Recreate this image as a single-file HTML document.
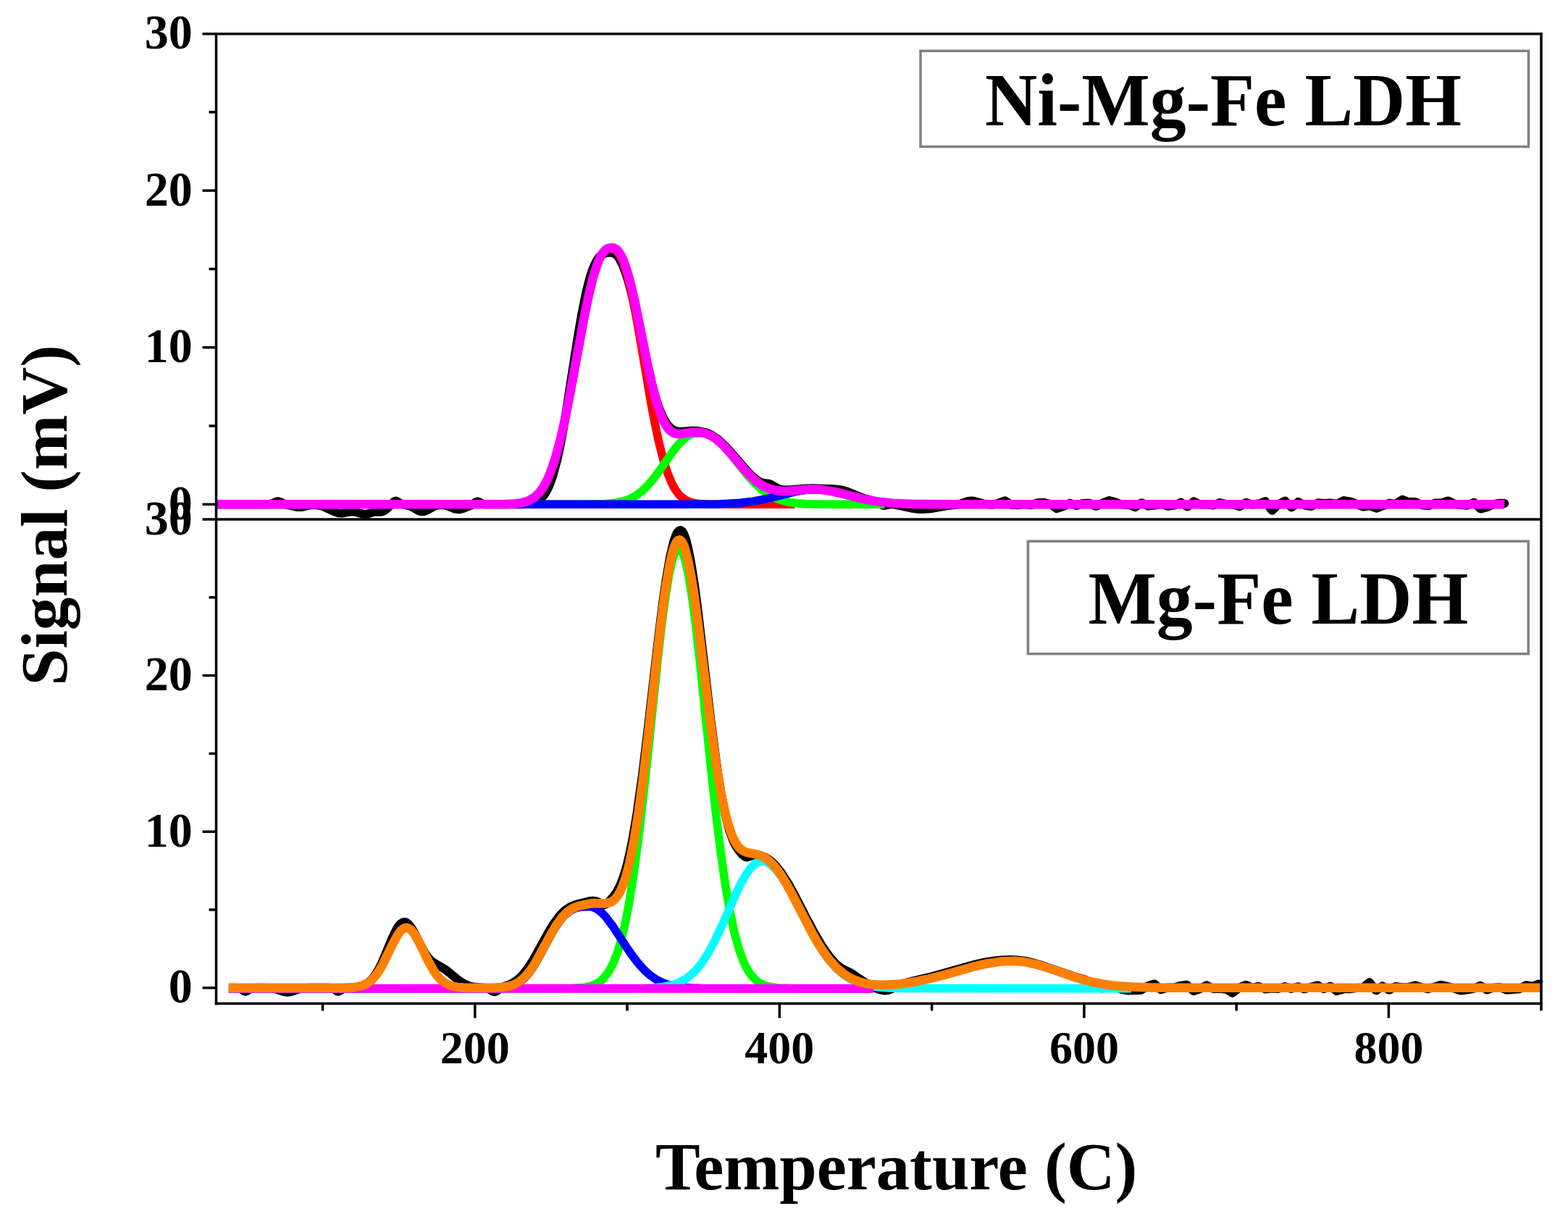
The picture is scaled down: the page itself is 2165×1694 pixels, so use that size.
<!DOCTYPE html>
<html><head><meta charset="utf-8"><title>TPD profiles: Ni-Mg-Fe LDH and Mg-Fe LDH</title>
<style>
html,body{margin:0;padding:0;background:#fff;}
body{width:2165px;height:1694px;overflow:hidden;}
svg{display:block;}
text{font-family:"Liberation Serif","Times New Roman",serif;font-weight:bold;fill:#000;}
</style></head><body>
<svg width="2165" height="1694" viewBox="0 0 2165 1694">
<rect width="2165" height="1694" fill="#fff"/>
<path fill="none" stroke="#000" stroke-width="12" stroke-linejoin="round" stroke-linecap="butt" d="M298.3 696.3 369.8 696.2 375 695.5 381.3 692.8 384.5 692.3 386.6 692.9 394 696.2 409.7 700 416 700.1 429.7 697.2 437.1 697.2 442.3 698 446.5 699.2 462.3 706.6 467.6 708.2 472.8 708.4 483.3 706.5 487.5 706.3 491.7 707 500.2 709.5 504.4 709.9 507.5 709.5 517 706.6 525.4 706.8 528.5 706.2 531.7 704.3 534.8 701.7 543.3 693.2 545.4 691.8 546.4 691.6 548.5 692.4 553.8 695.7 565.3 698.4 569.5 700.3 578 705.1 581.1 706.1 583.2 706.3 585.3 706 588.5 704.9 600 698.7 606.3 697.2 610.5 697.1 614.8 697.7 619 698.9 628.4 702.6 633.7 703.3 638.9 702.2 649.5 697.9 652.6 696.2 656.8 693.3 658.9 692.5 661 692.9 666.3 695.6 669.4 696.2 716.7 696.2 726.2 695.9 732.5 695.1 737.8 693.8 743 691.3 747.2 688 750.4 684.5 753.5 680 756.7 674.1 759.8 666.8 763 657.9 769.3 634.7 774.6 609.9 779.8 580.6 796.6 472.7 803 435.2 809.3 403.8 814.5 383.2 817.7 373.5 820.8 365.7 824 359.7 827.1 355.3 830.3 352.2 833.4 350.4 837.7 349.1 842.9 348.6 846.1 348.9 849.2 350.4 852.4 353.2 854.5 355.9 859.7 365.8 865 379.9 869.2 394.2 874.5 415 893.4 502 901.8 536.7 907 554.7 911.3 566.6 915.5 576.2 920.7 585.2 923.9 589 927 591.9 930.2 593.9 934.4 595.4 940.7 595.9 955.4 594.7 963.8 595.1 974.3 597.2 979.6 599.2 983.8 601.4 991.2 606.5 999.6 614.1 1008 623.1 1030.1 648.7 1037.4 656.3 1043.7 661.8 1047.9 664.6 1051.1 666.1 1054.2 666.9 1060.5 667.6 1063.7 668.5 1073.2 674 1077.4 675.6 1081.6 676.3 1087.9 676.4 1112.1 674.6 1123.6 674.3 1151 675.3 1158.3 675.9 1163.6 676.9 1168.8 678.4 1192 687.8 1208.8 692.2 1212 693.6 1217.2 696.8 1219.3 697.7 1222.5 697.8 1228.8 696.2 1233 696.2 1260.3 701.9 1266.6 702.8 1272.9 703.1 1284.5 702.3 1305.5 698.6 1321.3 696.5 1326.6 695.3 1337.1 691.9 1341.3 691.4 1345.5 691.9 1358.1 695.5 1369.7 696.7 1377 695.2 1387.5 691.3 1395.9 696.8 1397 697 1405.4 697.2 1413.8 696.1 1423.3 697.2 1432.7 694.2 1441.2 693.9 1450.6 696 1459 702.2 1468.5 698.8 1476.9 694.8 1478 694.9 1486.4 698.1 1494.8 695 1504.2 694.8 1512.7 698.8 1513.7 698.8 1522.1 694.7 1531.6 691 1540 693.3 1549.4 696.6 1558.9 697 1567.3 700.2 1575.7 694.4 1576.8 694.3 1585.2 698.6 1594.7 697.6 1603.1 695.9 1612.5 698.9 1620.9 697.9 1630.4 693.6 1638.8 699.4 1639.9 699.3 1648.3 692.4 1657.7 696.5 1666.2 696.3 1675.6 697.5 1684 694.1 1693.5 696.2 1701.9 695.9 1711.4 699.4 1719.8 694.1 1720.8 693.9 1729.2 696.5 1738.7 695.3 1747.1 692.2 1755.5 703.8 1756.6 704.6 1765 696.4 1774.4 691.7 1782.9 700.4 1783.9 700.3 1792.3 692.9 1801.8 697.6 1810.2 699 1819.7 694.3 1828.1 694.9 1837.5 694.6 1845.9 695.8 1855.4 691.1 1864.9 692.6 1881.7 699.4 1882.7 699.6 1891.2 698.3 1900.6 701.7 1918.5 694.7 1926.9 695.9 1936.4 689.8 1944.8 693 1954.2 693 1963.7 697.2 1972.1 698.4 1981.6 694.5 1990 694.4 1999.4 691.4 2008.9 696 2017.3 697.1 2025.7 697.7 2035.2 693.8 2043.6 702 2044.7 702.6 2053.1 700.2 2062.5 696 2070.9 694.7 2077.3 695"/>
<circle cx="2077.3" cy="695" r="6.0" fill="#000"/>
<path fill="none" stroke="#ff0000" stroke-width="11.5" stroke-linejoin="round" stroke-linecap="butt" d="M298.3 696.3 695.7 696.2 709.4 695.6 719.9 694.3 728.3 691.9 735.7 688.1 739.9 684.9 744.1 680.7 748.3 675.3 752.5 668.5 756.7 660.2 759.8 652.7 766.2 634.6 773.5 607.8 780.9 575.1 788.2 537.6 807.2 435 812.4 409.7 817.7 387.8 824 367 827.1 359.1 830.3 352.8 833.4 348.2 836.6 345.2 839.8 343.6 842.9 343.2 846.1 343.6 849.2 345 852.4 347.8 855.5 352.3 858.7 358.5 860.8 363.7 866 380.3 871.3 401.8 876.6 427.5 882.9 462.4 898.6 554.9 903.9 583 909.1 608 915.5 633.3 921.8 653.3 928.1 668.3 931.2 674 934.4 678.8 937.5 682.8 940.7 685.9 947 690.4 951.2 692.4 955.4 693.8 964.9 695.4 974.3 696 987 696.3 1097.3 696.3"/>
<path fill="none" stroke="#00ff00" stroke-width="11.5" stroke-linejoin="round" stroke-linecap="butt" d="M298.3 696.3 806.1 696.3 833.4 695.8 850.3 694.2 860.8 692 869.2 689 877.6 684.5 886 678.3 893.4 671.3 901.8 661.5 909.1 651.7 929.1 623.2 934.4 616.4 939.6 610.5 945.9 604.7 952.3 600.7 958.6 598.4 964.9 597.7 972.2 598.4 978.5 600.4 984.8 603.7 991.2 608.3 997.5 614.2 1003.8 621 1031.1 655 1043.7 668.8 1051.1 675.4 1058.4 680.9 1065.8 685.3 1074.2 689.1 1082.6 691.8 1091 693.6 1100.5 694.8 1112.1 695.7 1139.4 696.2 1221.4 696.3"/>
<path fill="none" stroke="#0000ff" stroke-width="11.5" stroke-linejoin="round" stroke-linecap="butt" d="M298.3 696.3 936.5 696.3 993.3 695.9 1018.5 694.6 1039.5 692.2 1058.4 688.6 1100.5 678.2 1113.1 676.3 1124.7 675.7 1136.2 676.3 1148.9 678.2 1190.9 688.6 1210.9 692.4 1233 694.8 1259.3 695.9 1317.1 696.3 2066.7 696.3"/>
<path fill="none" stroke="#ff00ff" stroke-width="12.5" stroke-linejoin="round" stroke-linecap="butt" d="M300.4 696.3 696.8 696.1 710.4 695.5 720.9 694.1 729.4 691.5 735.7 688.1 739.9 684.9 744.1 680.7 748.3 675.3 752.5 668.5 756.7 660.2 759.8 652.7 766.2 634.6 773.5 607.8 780.9 575.1 788.2 537.6 807.2 434.9 813.5 405 818.7 383.8 825 363.9 828.2 356.4 831.3 350.6 834.5 346.5 837.7 343.8 840.8 342.4 845 342 848.2 342.6 850.3 343.7 853.4 346.5 855.5 349.3 858.7 354.8 860.8 359.4 866 374.3 870.2 389.4 875.5 411.6 894.4 504.7 901.8 537.2 907 556.6 911.3 569.4 915.5 579.7 919.7 587.4 922.8 591.8 926 595 929.1 597.2 933.3 598.8 939.6 599.2 955.4 596.8 963.8 596.7 969.1 597.3 974.3 598.5 979.6 600.5 983.8 602.7 991.2 607.9 999.6 615.7 1008 625 1028 648.6 1039.5 660.4 1045.8 665.7 1052.1 669.9 1058.4 673.2 1064.8 675.5 1073.2 677.3 1081.6 677.9 1090 677.7 1117.3 675.5 1126.8 675.5 1135.2 676.1 1152 678.9 1189.9 688.3 1208.8 692.1 1231.9 694.7 1260.3 696 1318.1 696.3 2077.3 696.3"/>
<path fill="none" stroke="#000" stroke-width="12" stroke-linejoin="round" stroke-linecap="butt" d="M315.9 1363.8 329.6 1364.1 332.8 1365.3 337 1368.2 339.1 1368.8 341.2 1368.1 345.4 1365.2 348.5 1364.1 358 1363.8 372.7 1364.1 380.1 1365.2 391.6 1369 396.9 1369.8 401.1 1369.3 412.7 1365.6 420 1364.2 429.5 1363.8 454.7 1363.8 458.9 1364.5 461 1365.4 465.2 1368.3 467.3 1368.8 469.5 1367.9 473.7 1365 475.8 1364.2 492.6 1362.7 501 1360.6 506.3 1358 510.5 1354.9 514.7 1350.6 518.9 1344.9 523.1 1337.8 527.3 1329.4 542 1294.1 547.3 1283.3 550.4 1278.3 553.6 1274.9 556.7 1273.2 558.8 1273 560.9 1273.6 563 1274.9 567.2 1279.7 571.4 1286.5 582 1307.3 586.2 1314.8 591.4 1322.3 594.6 1325.7 597.7 1328.4 615.6 1339 633.5 1353.6 641.9 1358.9 647.1 1361 653.4 1362.5 672.4 1364.3 675.5 1365.6 680.8 1368.9 682.9 1369.3 683.9 1369.1 686 1368.1 690.2 1364.7 693.4 1362.8 703.9 1359.1 710.2 1355.9 716.5 1351.1 722.8 1344.6 729.1 1336.4 735.5 1326.6 756.5 1288.6 763.8 1276.4 772.3 1264.9 776.5 1260.3 780.7 1256.5 787 1252.3 793.3 1249.4 814.3 1244 818.5 1243.6 822.7 1244.1 825.9 1245.3 831.1 1248.2 834.3 1249.1 837.4 1248 840.6 1245.3 846.9 1237.7 851.1 1231.9 855.3 1224.3 858.5 1217 862.7 1204.7 865.8 1193.5 870 1175.6 873.2 1159.9 879.5 1122.7 886.9 1070.3 894.2 1010.2 910 873 915.2 831.4 919.5 801.8 924.7 771 930 748.5 933.1 739.4 935.2 735.3 937.3 732.9 939.4 732.1 940.5 732.4 942.6 734.3 944.7 738.2 946.8 743.9 949.9 755.6 954.1 776.9 958.4 803.7 962.6 834.8 981.5 995.5 990.9 1066.4 996.2 1098.5 1001.5 1124.8 1006.7 1145.1 1012 1159.8 1015.1 1166.4 1019.3 1173 1024.6 1179.5 1028.8 1183 1032 1183.5 1038.3 1181.1 1041.4 1180.4 1045.6 1180.3 1049.8 1181 1055.1 1183 1060.3 1185.9 1065.6 1189.9 1069.8 1193.9 1078.2 1204.1 1087.7 1218.7 1097.1 1235.7 1116.1 1272.4 1125.5 1290 1136 1307.5 1145.5 1320.9 1152.9 1329.4 1159.2 1334.9 1163.4 1337.5 1176 1343.8 1189.7 1353.4 1199.1 1359 1209.6 1364.3 1214.9 1366.4 1220.2 1367.5 1225.4 1367.2 1230.7 1365.6 1244.3 1359.4 1252.7 1356.4 1288.5 1347.8 1345.3 1331.8 1358.9 1328.7 1371.6 1326.6 1383.1 1325.4 1394.7 1325 1404.1 1325.4 1414.7 1326.7 1425.2 1329 1436.7 1332.2 1480.9 1347.5 1489.3 1350.2 1496.7 1352 1500.9 1353.8 1519.8 1363.9 1521.9 1364.6 1531.4 1361.7 1539.8 1362.9 1549.2 1366.2 1557.7 1367.6 1575.5 1366.9 1585 1361.2 1593.4 1358.5 1594.4 1358.8 1602.9 1366.3 1612.3 1363.4 1620.7 1363.5 1630.2 1360.9 1638.6 1359.7 1648.1 1368.2 1656.5 1365.4 1665.9 1360.4 1675.4 1365 1683.8 1364.8 1693.3 1365.7 1701.7 1370.8 1711.2 1363.6 1719.6 1359.9 1720.6 1360 1729 1363.9 1737.4 1361.9 1738.5 1362 1746.9 1365.5 1756.4 1364.5 1764.8 1364.9 1774.2 1362.1 1782.7 1365 1792.1 1362.2 1800.5 1365.3 1801.6 1365.3 1818.4 1360.4 1819.4 1360.5 1827.9 1365.3 1836.3 1361.8 1837.3 1361.8 1845.7 1368.3 1855.2 1365.2 1863.6 1365.3 1873.1 1364.1 1881.5 1363.6 1882.5 1363.1 1890.9 1356.2 1899.4 1367 1900.4 1367.4 1908.8 1361.3 1917.2 1366.4 1918.3 1366.7 1926.7 1361.9 1936.2 1363.3 1944.6 1363.1 1954 1360.5 1962.4 1363.1 1971.9 1365.3 1989.8 1359.8 1999.2 1362.1 2017.1 1367.5 2025.5 1366.5 2035 1364.7 2043.4 1360.9 2044.4 1361 2052.9 1366.6 2062.3 1363.8 2070.7 1363.1 2080.2 1366.7 2098.1 1365.3 2106.5 1360.4 2107.5 1360.2 2115.9 1361.8 2124.4 1358.6 2125.4 1358.7 2127.5 1360.1"/>
<path fill="none" stroke="#00ff00" stroke-width="11.5" stroke-linejoin="round" stroke-linecap="butt" d="M315.9 1364.8 787 1364.6 803.8 1363.6 810.1 1362.6 815.4 1361.4 820.6 1359.5 824.8 1357.3 829 1354.5 832.2 1351.8 837.4 1345.8 842.7 1337.7 848 1326.9 852.2 1315.8 856.4 1302.3 860.6 1286.1 864.8 1266.9 869 1244.5 876.3 1197.3 883.7 1140.1 891.1 1074.8 908.9 904 914.2 858.7 918.4 826.8 923.7 794 927.9 774.7 931 764.6 933.1 760.2 935.2 757.6 937.3 756.8 939.4 757.9 941.5 760.9 943.6 765.8 946.8 776.3 951 796.3 956.3 829.7 960.5 862.1 965.7 907.8 982.5 1068.9 988.8 1125.8 995.2 1177.1 1001.5 1221.5 1007.8 1258.3 1014.1 1287.9 1020.4 1310.7 1026.7 1327.8 1029.8 1334.6 1034.1 1341.9 1038.3 1347.7 1042.5 1352.2 1046.7 1355.6 1051.9 1358.7 1057.2 1360.8 1063.5 1362.5 1075.1 1364 1090.8 1364.6 1202.3 1364.8"/>
<path fill="none" stroke="#0000ff" stroke-width="11.5" stroke-linejoin="round" stroke-linecap="butt" d="M315.9 1364.8 671.3 1364.8 690.2 1364.3 701.8 1362.8 709.2 1360.5 716.5 1356.7 723.9 1350.6 730.2 1343.5 735.5 1336.1 741.8 1325.8 759.6 1292.7 765.9 1281.8 773.3 1270.9 779.6 1263.6 787 1257.5 794.3 1253.9 802.7 1252 813.3 1251.6 818.5 1252.3 824.8 1255.3 830.1 1259.3 836.4 1265.9 846.9 1279.8 865.8 1308.8 874.2 1320.9 882.7 1331.6 890 1339.6 897.4 1346.2 905.8 1352.1 914.2 1356.4 923.7 1359.8 932.1 1361.7 942.6 1363.2 954.1 1364.1 968.9 1364.6 1202.3 1364.8"/>
<path fill="none" stroke="#00ffff" stroke-width="11.5" stroke-linejoin="round" stroke-linecap="butt" d="M315.9 1364.8 870 1364.7 890 1364.4 903.7 1363.7 915.2 1362.5 924.7 1360.7 931 1359 937.3 1356.5 943.6 1353.3 948.9 1349.9 954.1 1345.8 959.4 1340.8 964.7 1334.9 968.9 1329.5 977.3 1316.7 986.7 1299.3 996.2 1279.3 1017.2 1231.7 1023.5 1218.8 1028.8 1209.4 1035.1 1200.1 1040.4 1194.3 1043.5 1191.8 1046.7 1190.1 1049.8 1189.2 1051.9 1189.1 1055.1 1189.4 1058.2 1190.4 1061.4 1191.9 1065.6 1194.9 1071.9 1201.1 1079.3 1210.8 1085.6 1220.8 1091.9 1232.1 1116.1 1279.3 1125.5 1296.7 1136 1313.8 1145.5 1326.7 1155 1337.3 1164.4 1345.5 1174.9 1352.3 1186.5 1357.3 1197 1360.3 1209.6 1362.5 1224.4 1363.8 1243.3 1364.5 1561.9 1364.8"/>
<path fill="none" stroke="#ff00ff" stroke-width="12" stroke-linejoin="round" stroke-linecap="butt" d="M315.9 1364.8 1206.5 1364.8"/>
<path fill="none" stroke="#ff8000" stroke-width="12.5" stroke-linejoin="round" stroke-linecap="butt" d="M315.9 1363.8 474.7 1363.7 489.4 1362.9 494.7 1362.1 499.9 1360.8 505.2 1358.6 510.5 1355.3 514.7 1351.5 518.9 1346.7 523.1 1340.8 528.3 1331.8 543 1301.7 549.4 1290.4 552.5 1286.1 555.7 1283 558.8 1281.2 560.9 1280.8 563 1281.1 566.2 1282.6 568.3 1284.5 571.4 1288.2 577.7 1298.8 591.4 1326.9 598.8 1340.1 603 1346.2 607.2 1351.1 611.4 1354.9 615.6 1357.8 620.9 1360.3 626.1 1361.8 632.4 1362.9 639.8 1363.5 656.6 1363.8 682.9 1363.6 693.4 1363 701.8 1361.8 709.2 1359.5 716.5 1355.7 722.8 1350.6 729.1 1343.8 734.4 1336.7 740.7 1326.6 760.7 1289.8 768 1277.4 776.5 1266 783.8 1258.7 791.2 1253.8 799.6 1250.7 818.5 1246.9 833.2 1247.3 838.5 1247 843.8 1245.3 846.9 1243.3 849 1241.4 853.2 1236.2 856.4 1230.7 859.5 1223.7 862.7 1215 865.8 1204.5 869 1192 875.3 1161 881.6 1121.8 887.9 1075 894.2 1022.1 910 881.5 915.2 839.1 919.5 809.2 924.7 778.8 928.9 761 932.1 751.9 934.2 748 936.3 745.8 938.4 745.3 939.4 745.8 941.5 747.9 943.6 751.8 945.7 757.4 949.9 773.2 954.1 794.6 958.4 820.9 962.6 851 981.5 1002.4 989.9 1061.9 995.2 1092.9 999.4 1113.9 1004.6 1135.2 1009.9 1151.2 1013 1158.6 1016.2 1164.4 1019.3 1168.8 1023.5 1173 1026.7 1175 1030.9 1176.8 1045.6 1179.6 1053 1182.5 1058.2 1185.7 1062.4 1189 1066.6 1193 1070.9 1197.7 1078.2 1207.7 1086.6 1221.4 1095 1236.9 1120.3 1286.1 1128.7 1301 1137.1 1314.2 1145.5 1325.5 1155 1336 1164.4 1344.1 1169.7 1347.7 1174.9 1350.7 1181.2 1353.5 1188.6 1356.1 1196 1357.8 1203.3 1359 1211.7 1359.6 1221.2 1359.8 1242.2 1358.5 1261.2 1355.8 1282.2 1351.5 1301.1 1346.7 1342.1 1335.2 1361 1330.7 1381 1327.6 1390.5 1326.9 1399.9 1326.7 1414.7 1328 1430.4 1331.3 1445.2 1335.7 1485.1 1349.5 1497.7 1353.2 1509.3 1356 1521.9 1358.4 1534.5 1360.2 1548.2 1361.6 1562.9 1362.6 1590.2 1363.4 1632.3 1363.8 2127.5 1363.8"/>
<line x1="279.5" y1="46.8" x2="2129.8" y2="46.8" stroke="#000" stroke-width="3.5" stroke-linecap="butt"/>
<line x1="298.5" y1="46.8" x2="298.5" y2="1387.2" stroke="#000" stroke-width="3.5" stroke-linecap="butt"/>
<line x1="2128" y1="45" x2="2128" y2="1395.5" stroke="#000" stroke-width="3.5" stroke-linecap="butt"/>
<line x1="279.5" y1="717" x2="2128" y2="717" stroke="#000" stroke-width="3.5" stroke-linecap="butt"/>
<line x1="296.8" y1="1385.5" x2="2129.8" y2="1385.5" stroke="#000" stroke-width="3.5" stroke-linecap="butt"/>
<line x1="279.5" y1="696.3" x2="298.5" y2="696.3" stroke="#000" stroke-width="3.5" stroke-linecap="butt"/>
<line x1="279.5" y1="479.7" x2="298.5" y2="479.7" stroke="#000" stroke-width="3.5" stroke-linecap="butt"/>
<line x1="279.5" y1="263.1" x2="298.5" y2="263.1" stroke="#000" stroke-width="3.5" stroke-linecap="butt"/>
<line x1="288.5" y1="588" x2="298.5" y2="588" stroke="#000" stroke-width="3.5" stroke-linecap="butt"/>
<line x1="288.5" y1="371.4" x2="298.5" y2="371.4" stroke="#000" stroke-width="3.5" stroke-linecap="butt"/>
<line x1="288.5" y1="154.8" x2="298.5" y2="154.8" stroke="#000" stroke-width="3.5" stroke-linecap="butt"/>
<line x1="279.5" y1="1363.8" x2="298.5" y2="1363.8" stroke="#000" stroke-width="3.5" stroke-linecap="butt"/>
<line x1="279.5" y1="1148.2" x2="298.5" y2="1148.2" stroke="#000" stroke-width="3.5" stroke-linecap="butt"/>
<line x1="279.5" y1="932.6" x2="298.5" y2="932.6" stroke="#000" stroke-width="3.5" stroke-linecap="butt"/>
<line x1="288.5" y1="1256" x2="298.5" y2="1256" stroke="#000" stroke-width="3.5" stroke-linecap="butt"/>
<line x1="288.5" y1="1040.4" x2="298.5" y2="1040.4" stroke="#000" stroke-width="3.5" stroke-linecap="butt"/>
<line x1="288.5" y1="824.8" x2="298.5" y2="824.8" stroke="#000" stroke-width="3.5" stroke-linecap="butt"/>
<line x1="655.8" y1="1385.5" x2="655.8" y2="1405.5" stroke="#000" stroke-width="3.5" stroke-linecap="butt"/>
<line x1="1076.3" y1="1385.5" x2="1076.3" y2="1405.5" stroke="#000" stroke-width="3.5" stroke-linecap="butt"/>
<line x1="1496.9" y1="1385.5" x2="1496.9" y2="1405.5" stroke="#000" stroke-width="3.5" stroke-linecap="butt"/>
<line x1="1917.4" y1="1385.5" x2="1917.4" y2="1405.5" stroke="#000" stroke-width="3.5" stroke-linecap="butt"/>
<line x1="445.5" y1="1385.5" x2="445.5" y2="1395.5" stroke="#000" stroke-width="3.5" stroke-linecap="butt"/>
<line x1="866" y1="1385.5" x2="866" y2="1395.5" stroke="#000" stroke-width="3.5" stroke-linecap="butt"/>
<line x1="1286.6" y1="1385.5" x2="1286.6" y2="1395.5" stroke="#000" stroke-width="3.5" stroke-linecap="butt"/>
<line x1="1707.2" y1="1385.5" x2="1707.2" y2="1395.5" stroke="#000" stroke-width="3.5" stroke-linecap="butt"/>
<rect x="1271.0" y="70.3" width="839.5" height="132.2" fill="#fff" stroke="#808080" stroke-width="3.5"/>
<rect x="1419.4" y="747.2" width="690.8" height="155.5" fill="#fff" stroke="#808080" stroke-width="3.5"/>
<text transform="translate(265.7,716.8) scale(1,1.015)" font-size="66" text-anchor="end">0</text>
<text transform="translate(265.7,500.2) scale(1,1.015)" font-size="66" text-anchor="end">10</text>
<text transform="translate(265.7,283.6) scale(1,1.015)" font-size="66" text-anchor="end">20</text>
<text transform="translate(265.7,67) scale(1,1.015)" font-size="66" text-anchor="end">30</text>
<text transform="translate(265.7,1384.3) scale(1,1.015)" font-size="66" text-anchor="end">0</text>
<text transform="translate(265.7,1168.7) scale(1,1.015)" font-size="66" text-anchor="end">10</text>
<text transform="translate(265.7,953.1) scale(1,1.015)" font-size="66" text-anchor="end">20</text>
<text transform="translate(265.7,737.5) scale(1,1.015)" font-size="66" text-anchor="end">30</text>
<text x="655.8" y="1468.3" font-size="64" text-anchor="middle">200</text>
<text x="1076.3" y="1468.3" font-size="64" text-anchor="middle">400</text>
<text x="1496.9" y="1468.3" font-size="64" text-anchor="middle">600</text>
<text x="1917.4" y="1468.3" font-size="64" text-anchor="middle">800</text>
<text x="905" y="1642" font-size="92.5" text-anchor="start">Temperature (C)</text>
<text transform="translate(92.4,946.5) rotate(-90)" font-size="91.5" text-anchor="start">Signal (mV)</text>
<text transform="translate(1360,173.3) scale(1,1.03)" font-size="100" text-anchor="start">Ni-Mg-Fe LDH</text>
<text transform="translate(1502.5,861.3) scale(1,1.03)" font-size="100" text-anchor="start">Mg-Fe LDH</text>
</svg>
</body></html>
